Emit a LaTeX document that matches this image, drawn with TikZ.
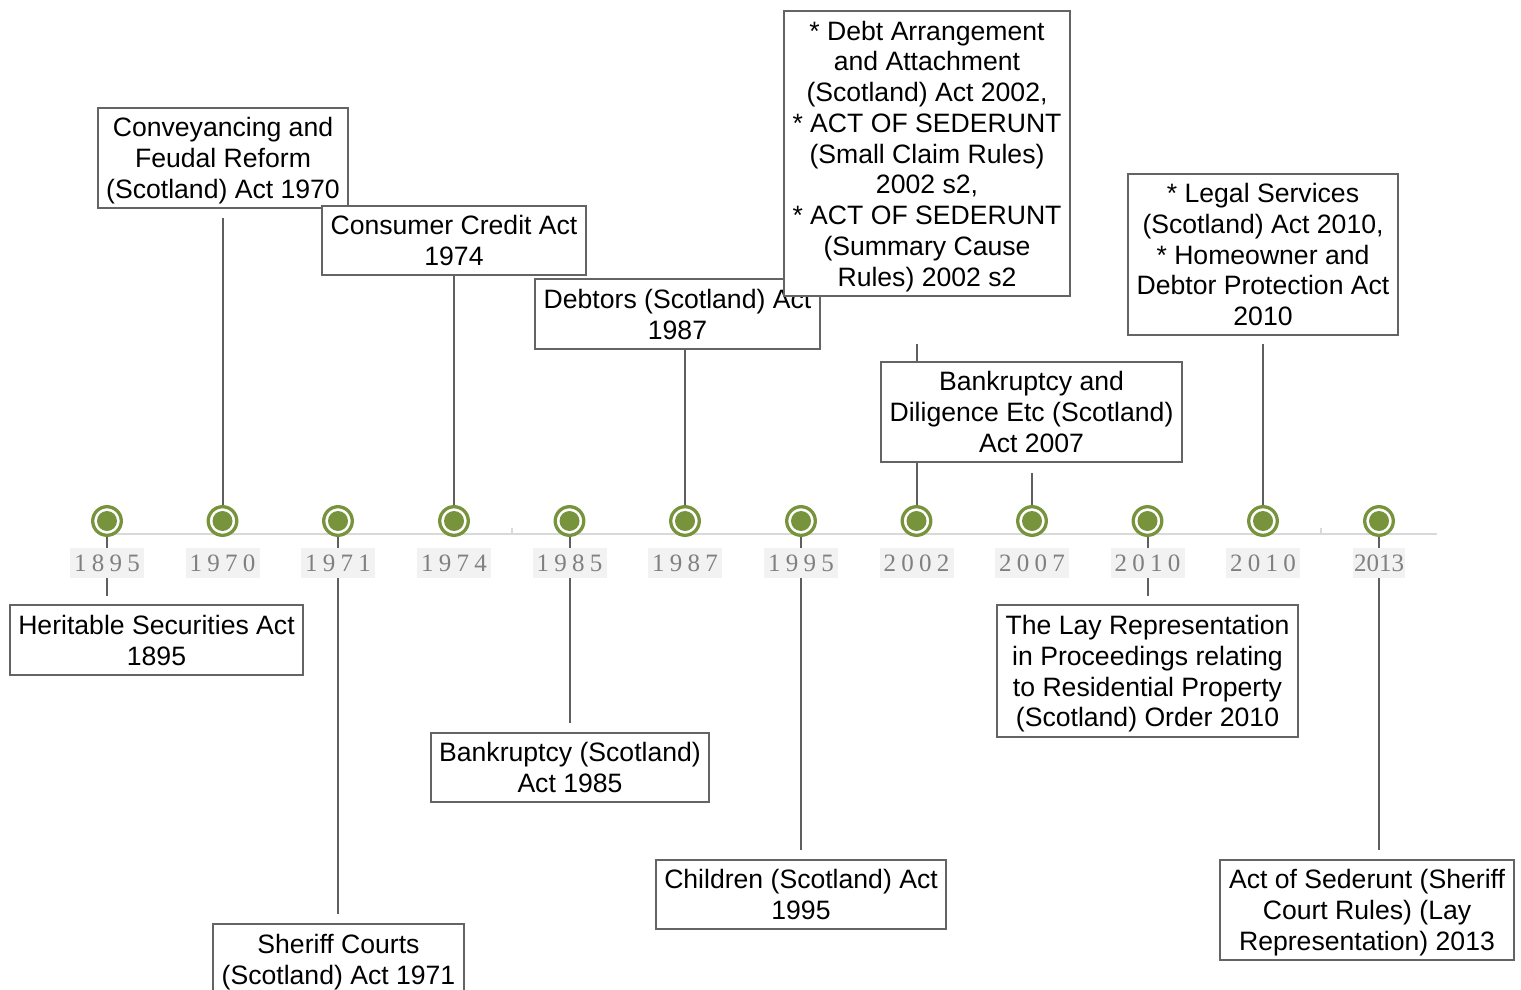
\documentclass[tikz,border=0pt]{standalone}
\usepackage{fontspec}
\setmainfont{Liberation Sans}
\newfontfamily\yearfont{Liberation Serif}
\definecolor{mgreen}{RGB}{119,147,60}
\definecolor{bordergray}{RGB}{100,100,100}
\definecolor{conngray}{RGB}{95,95,95}
\definecolor{axisgray}{RGB}{217,217,217}
\definecolor{lblbg}{RGB}{242,242,242}
\definecolor{lbltext}{RGB}{128,128,128}
\pgfdeclarelayer{bg}
\pgfsetlayers{bg,main}
\tikzset{
  actbox/.style={draw=bordergray, line width=1.5pt, fill=white, inner sep=0pt, align=center,
    text depth=0pt, font=\fontsize{26.6pt}{30.75pt}\selectfont},
  conn/.style={draw=conngray, line width=2pt},
  yearlbl/.style={fill=lblbg, text=lbltext, inner sep=0pt, minimum width=74pt, minimum height=30pt,
    font=\yearfont\fontsize{25pt}{25pt}\selectfont},
  marker/.style={circle, draw=mgreen, line width=3.3pt, fill=white, minimum size=28.6pt, inner sep=0pt},
}
\newcommand\ls{\hspace{5.3pt}}
\begin{document}
\begin{tikzpicture}[x=1pt,y=-1pt]
\useasboundingbox (0,0) rectangle (1521,990);
\clip (0,0) rectangle (1521,990);
% markers
\foreach \n/\x in {1/107,2/222.5,3/338,4/454,5/569.5,6/685,7/801,8/916.5,9/1032,10/1147.5,11/1263,12/1379}{
  \node[marker] (m\n) at (\x,521) {};
  \fill[mgreen] (m\n.center) circle[radius=10pt];
}
% year labels
\node[yearlbl] (y1) at (107,563) {1\ls8\ls9\ls5};
\node[yearlbl] (y2) at (222.5,563) {1\ls9\ls7\ls0};
\node[yearlbl] (y3) at (338,563) {1\ls9\ls7\ls1};
\node[yearlbl] (y4) at (454,563) {1\ls9\ls7\ls4};
\node[yearlbl] (y5) at (569.5,563) {1\ls9\ls8\ls5};
\node[yearlbl] (y6) at (685,563) {1\ls9\ls8\ls7};
\node[yearlbl] (y7) at (801,563) {1\ls9\ls9\ls5};
\node[yearlbl] (y8) at (916.5,563) {2\ls0\ls0\ls2};
\node[yearlbl] (y9) at (1032,563) {2\ls0\ls0\ls7};
\node[yearlbl] (y10) at (1147.5,563) {2\ls0\ls1\ls0};
\node[yearlbl] (y11) at (1263,563) {2\ls0\ls1\ls0};
\node[yearlbl, minimum width=52pt] (y12) at (1379,563) {2013};
% boxes
\node[actbox, minimum width=293pt, minimum height=70pt] (b1) at (156.5,640) {Heritable Securities Act\\1895};
\node[actbox, minimum width=250pt, minimum height=100pt] (b2) at (223,158) {Conveyancing and\\Feudal Reform\\(Scotland) Act 1970};
\node[actbox, minimum width=251pt, minimum height=70pt] (b3) at (338.5,959) {Sheriff Courts\\(Scotland) Act 1971};
\node[actbox, minimum width=264pt, minimum height=69pt] (b4) at (454,240.5) {Consumer Credit Act\\1974};
\node[actbox, minimum width=285pt, minimum height=70pt] (b5) at (677.5,314) {Debtors (Scotland) Act\\1987};
\node[actbox, minimum width=286pt, minimum height=285pt] (b6) at (927,153.5) {* Debt Arrangement\\and Attachment\\(Scotland) Act 2002,\\* ACT OF SEDERUNT\\(Small Claim Rules)\\2002 s2,\\* ACT OF SEDERUNT\\(Summary Cause\\Rules) 2002 s2};
\node[actbox, minimum width=278pt, minimum height=69pt] (b7) at (570,767.5) {Bankruptcy (Scotland)\\Act 1985};
\node[actbox, minimum width=290pt, minimum height=69pt] (b8) at (801,894.5) {Children (Scotland) Act\\1995};
\node[actbox, minimum width=301pt, minimum height=100pt] (b9) at (1031.5,412) {Bankruptcy and\\Diligence Etc (Scotland)\\Act 2007};
\node[actbox, minimum width=301pt, minimum height=132pt] (b10) at (1147.5,671) {The Lay Representation\\in Proceedings relating\\to Residential Property\\(Scotland) Order 2010};
\node[actbox, minimum width=270pt, minimum height=161pt] (b11) at (1263,254.5) {* Legal Services\\(Scotland) Act 2010,\\* Homeowner and\\Debtor Protection Act\\2010};
\node[actbox, minimum width=294pt, minimum height=100pt] (b12) at (1367,910) {Act of Sederunt (Sheriff\\Court Rules) (Lay\\Representation) 2013};
% background: axis and connectors
\begin{pgfonlayer}{bg}
\coordinate (axL) at (107,534);
\coordinate (axR) at (1437,534);
\coordinate (t1) at (512,534);
\coordinate (t2) at (1321,534);
\draw[axisgray, line width=2pt] (axL) -- (axR);
\draw[axisgray, line width=1.5pt] (t1) -- ++(0,-6);
\draw[axisgray, line width=1.5pt] (t2) -- ++(0,-6);
\draw[conn, shorten >=8pt] (m1.center) -- (m1 |- b1.north);
\draw[conn, shorten >=9pt] (m2.center) -- (m2 |- b2.south);
\draw[conn, shorten >=9pt] (m3.center) -- (m3 |- b3.north);
\draw[conn] (m4.center) -- (m4 |- b4.south);
\draw[conn, shorten >=9pt] (m5.center) -- (m5 |- b7.north);
\draw[conn] (m6.center) -- (m6 |- b5.south);
\draw[conn, shorten >=9pt] (m7.center) -- (m7 |- b8.north);
\draw[conn, shorten >=47pt] (m8.center) -- (m8 |- b6.south);
\draw[conn, shorten >=10pt] (m9.center) -- (m9 |- b9.south);
\draw[conn, shorten >=8pt] (m10.center) -- (m10 |- b10.north);
\draw[conn, shorten >=8pt] (m11.center) -- (m11 |- b11.south);
\draw[conn, shorten >=9pt] (m12.center) -- (m12 |- b12.north);
\end{pgfonlayer}
\end{tikzpicture}
\end{document}
